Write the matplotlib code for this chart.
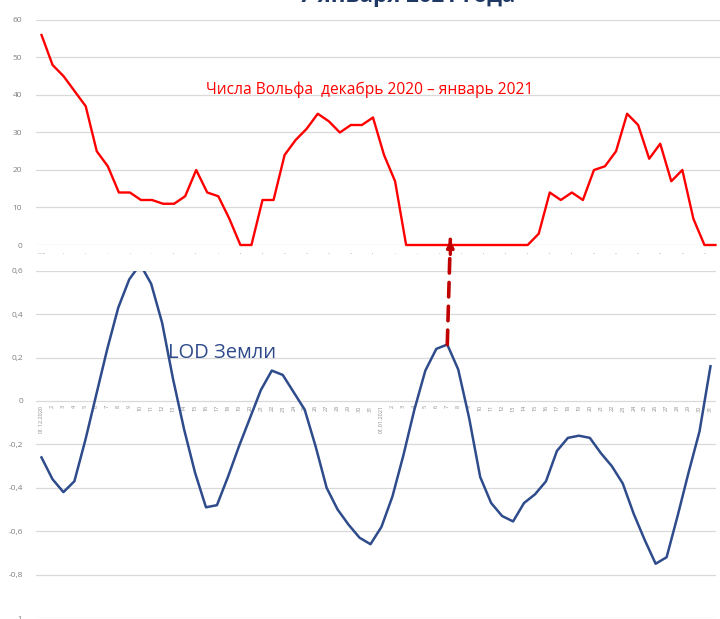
import matplotlib.pyplot as plt
from matplotlib.patches import ConnectionPatch

plt.rcParams['font.family'] = ['Open Sans', 'DejaVu Sans']

# ---------------- Данные: декабрь 2020 - январь 2021 ----------------
dec_days = ['01.12.2020'] + [str(d) for d in range(2, 32)]
jan_days = ['01.01.2021'] + [str(d) for d in range(2, 32)]
days = dec_days + jan_days

# Числа Вольфа
wolf = [56, 48, 45, 41, 37, 25, 21, 14, 14, 12,
        12, 11, 11, 13, 20, 14, 13, 7, 0, 0,
        12, 12, 24, 28, 31, 35, 33, 30, 32, 32,
        34, 24, 17, 0, 0, 0, 0, 0, 0, 0,
        0, 0, 0, 0, 0, 3, 14, 12, 14, 12,
        20, 21, 25, 35, 32, 23, 27, 17, 20, 7,
        0, 0]

# LOD Земли
lod = [-0.26, -0.36, -0.42, -0.37, -0.18, 0.03, 0.24, 0.43, 0.56, 0.63,
       0.54, 0.36, 0.10, -0.13, -0.33, -0.49, -0.48, -0.35, -0.21, -0.08,
       0.05, 0.14, 0.12, 0.04, -0.04, -0.21, -0.40, -0.50, -0.57, -0.63,
       -0.66, -0.58, -0.44, -0.25, -0.04, 0.14, 0.24, 0.26, 0.145, -0.08,
       -0.35, -0.47, -0.53, -0.555, -0.47, -0.43, -0.37, -0.23, -0.17, -0.16,
       -0.17, -0.24, -0.30, -0.38, -0.52, -0.64, -0.75, -0.72, -0.53, -0.33,
       -0.14, 0.16]

wolf_ticks = [0, 10, 20, 30, 40, 50, 60]
lod_ticks = [-1, -0.8, -0.6, -0.4, -0.2, 0, 0.2, 0.4, 0.6]
lod_tick_labels = ['-1', '-0,8', '-0,6', '-0,4', '-0,2', '0', '0,2', '0,4', '0,6']

x = list(range(len(days)))
grid_color = '#D9D9D9'
label_color = '#808080'
blue = '#2E4B8B'

fig = plt.figure(figsize=(7.2, 6.19), dpi=100)
ax_top = fig.add_axes([0.05, 0.6042, 0.9514, 0.3635])
ax_bot = fig.add_axes([0.05, 0.0016, 0.9444, 0.561])

# ---------------- Верхний график: числа Вольфа ----------------
ax_top.plot(x, wolf, color='#FF0000', lw=1.7, clip_on=False, zorder=3)
ax_top.set_xlim(-0.5, len(days) - 0.5)
ax_top.set_ylim(0, 60)
ax_top.set_yticks(wolf_ticks)
ax_top.set_yticklabels([str(t) for t in wolf_ticks])
ax_top.set_xticks(x[::2])
ax_top.set_xticklabels(days[::2], fontsize=1.2, color=label_color)
ax_top.tick_params(axis='x', length=0, pad=6)
ax_top.tick_params(axis='y', length=0, pad=10, labelsize=6, labelcolor=label_color)
ax_top.grid(axis='y', color=grid_color, lw=0.9)
ax_top.set_axisbelow(True)
for s in ax_top.spines.values():
    s.set_visible(False)
ax_top.text(29.7, 41.3, 'Числа Вольфа  декабрь 2020 – январь 2021',
            color='#FF0000', fontsize=11.2, ha='center', va='center')

# ---------------- Нижний график: LOD Земли ----------------
ax_bot.plot(x, lod, color=blue, lw=1.8, zorder=3)
ax_bot.set_xlim(-0.5, len(days) - 0.5)
ax_bot.set_ylim(-1, 0.6)
ax_bot.spines['bottom'].set_position(('data', 0))
ax_bot.set_yticks(lod_ticks)
ax_bot.set_yticklabels(lod_tick_labels)
ax_bot.set_xticks(x)
ax_bot.set_xticklabels(days)
ax_bot.tick_params(axis='x', length=0, pad=3, labelsize=4, labelcolor='#8C8C8C',
                   labelrotation=90)
ax_bot.tick_params(axis='y', length=0, pad=9, labelsize=6, labelcolor=label_color)
ax_bot.grid(axis='y', color=grid_color, lw=0.9)
ax_bot.set_axisbelow(True)
for s in ax_bot.spines.values():
    s.set_visible(False)
ax_bot.text(11.5, 0.22, 'LOD Земли', color=blue, fontsize=14.5, ha='left', va='center')

# ---------------- Стрелка: пик LOD -> числа Вольфа ----------------
peak = 37
line = ConnectionPatch(xyA=(peak, lod[peak]), coordsA=ax_bot.transData,
                       xyB=(peak, 1.5), coordsB=ax_top.transData,
                       color='#C00000', lw=2.6, linestyle=(0, (4, 2.6)), zorder=5)
fig.add_artist(line)
ax_top.annotate('', xy=(peak, 1.3), xytext=(peak, -2.5),
                arrowprops=dict(arrowstyle='-|>', color='#C00000', lw=2.4,
                                mutation_scale=10, shrinkA=0, shrinkB=0),
                annotation_clip=False)

# Заголовок (обрезан сверху)
fig.text(0.565, 0.997, '7 января 2021 года', color='#1F3864', fontsize=16,
         fontweight='bold', ha='center', va='baseline')

fig.savefig('out.png', dpi=100)
